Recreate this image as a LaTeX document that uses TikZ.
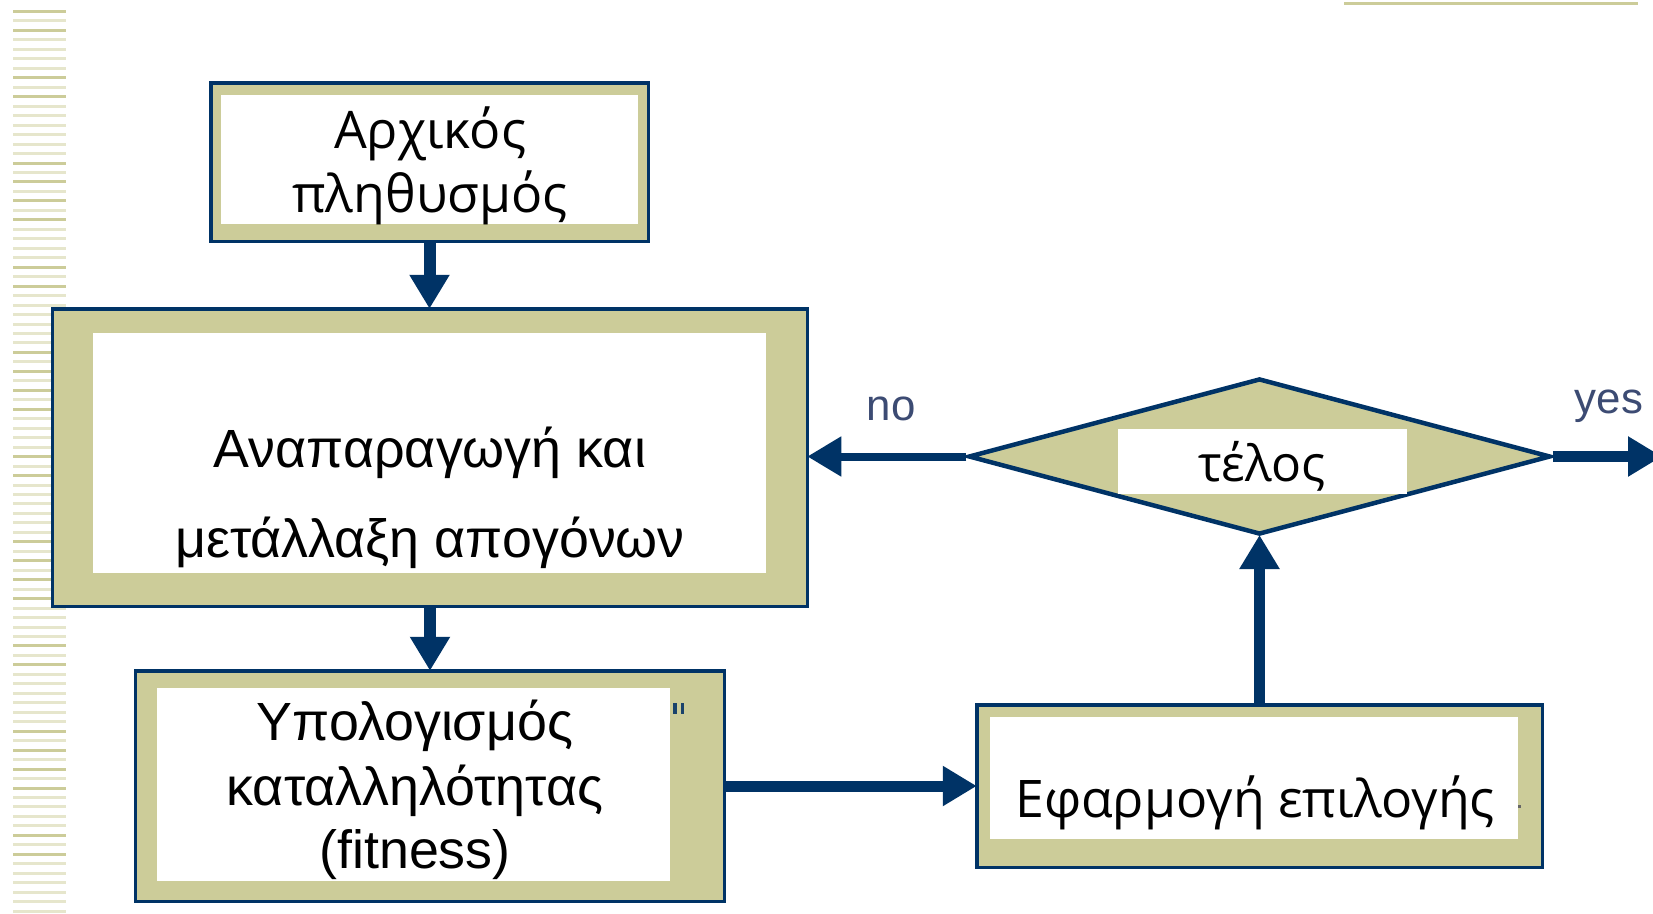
\documentclass[tikz,border=0pt]{standalone}
\usepackage{fontspec}
\newfontfamily\fa{Liberation Sans}
\newfontfamily\fb{Open Sans}
\usetikzlibrary{arrows.meta,shapes.geometric}
\definecolor{navy}{RGB}{0,51,102}
\definecolor{khaki}{RGB}{204,204,153}
\definecolor{khakil}{RGB}{230,230,204}
\definecolor{lblc}{RGB}{60,75,115}
\begin{document}
\begin{tikzpicture}[x=1bp,y=-1bp,
  outerbox/.style={draw=navy, line width=3.5bp, fill=khaki, rectangle, inner sep=0pt},
  conn/.style={draw=navy, line width=11bp, -{Triangle[length=34bp,width=38bp]}, shorten >=-1.75bp},
  txa/.style={anchor=base, inner sep=0pt, font=\fa\fontsize{54}{60}\selectfont},
  txc/.style={anchor=base, inner sep=0pt, font=\fa\fontsize{54}{60}\selectfont},
  txb/.style={anchor=base, inner sep=0pt, font=\fb\fontsize{52}{60}\selectfont},
  lbl/.style={anchor=base, inner sep=0pt, text=lblc, font=\fa\fontsize{44}{50}\selectfont}
]
\useasboundingbox (0,0) rectangle (1653,913);
\fill[white] (0,0) rectangle (1653,913);
% left stripes
\foreach \k in {0,...,95}{
  \pgfmathtruncatemacro{\dk}{{1,0,1,0,0,0,0,1,0,1,0,0,0,0,0,0,1,0,1,0}[mod(\k,20)]}
  \pgfmathsetmacro{\yy}{10+9.47*\k}
  \ifnum\dk=1
    \fill[khaki] (13,\yy) rectangle (66,\yy+3);
  \else
    \fill[khakil] (13,\yy) rectangle (66,\yy+3);
  \fi
}
% top right rule
\fill[khaki] (1344,2) rectangle (1638,5);

% box 1
\node[outerbox, minimum width=437.5bp, minimum height=158.5bp] (b1) at (429.5,162) {};
\fill[white] (221,95) rectangle (638,224);
\node[txb] (t1a) at (430,148) {Αρχικός};
\node[txb] (t1b) at (430,212) {πληθυσμός};

% box 2
\node[outerbox, minimum width=754.5bp, minimum height=297.5bp] (b2) at (430,457.5) {};
\fill[white] (93,333) rectangle (766,573);
\node[txa] (t2a) at (430,467) {Αναπαραγωγή και};
\node[txa] (t2b) at (430,557) {μετάλλαξη απογόνων};

% box 3
\node[outerbox, minimum width=588.5bp, minimum height=230.5bp] (b3) at (430,786) {};
\fill[white] (157,688) rectangle (670,881);
\node[txc] (t3a) at (415,740) {Υπολογισμός};
\node[txc] (t3b) at (415,805) {καταλληλότητας};
\node[txc] (t3c) at (415,868) {(fitness)};
\fill[navy!80!gray] (673,703) rectangle (677,714);
\fill[navy!80!gray] (681,703) rectangle (684,714);

% box 4
\node[outerbox, minimum width=565.5bp, minimum height=162.5bp] (b4) at (1259.5,786) {};
\fill[white] (990,717) rectangle (1518,839);
\node[txb, font=\fb\fontsize{52}{60}\selectfont] (t4) at (1255,817) {Εφαρμογή επιλογής};
\fill[black!60] (1518,805) rectangle (1521,808);

% decision diamond
\node[diamond, draw=navy, line width=4.5bp, fill=khaki, inner sep=0pt,
      minimum width=582bp, minimum height=156bp, aspect=3.7] (d) at (1259.5,456.5) {};
\fill[white] (1118,429) rectangle (1407,494);
\node[txb, font=\fb\fontsize{50}{60}\selectfont] (t5) at (1262,481) {τέλος};

% connectors
\draw[conn, line width=12bp] (b1.south) -- (b1.south |- b2.north);
\draw[conn, line width=12bp] (b2.south) -- (b2.south |- b3.north);
\draw[conn] (b3.east) -- (b3.east -| b4.west);
\draw[conn] (b4.north) -- (b4.north |- d.south);
\draw[conn, line width=8bp] (d.west) -- (d.west -| b2.east);
\coordinate (yesend) at (1662,456.5);
\draw[conn, shorten >=0pt] (d.east) -- (yesend);

% labels
\node[lbl] (no) at (891,420) {no};
\node[lbl] (yes) at (1609,413) {yes};
\end{tikzpicture}
\end{document}
